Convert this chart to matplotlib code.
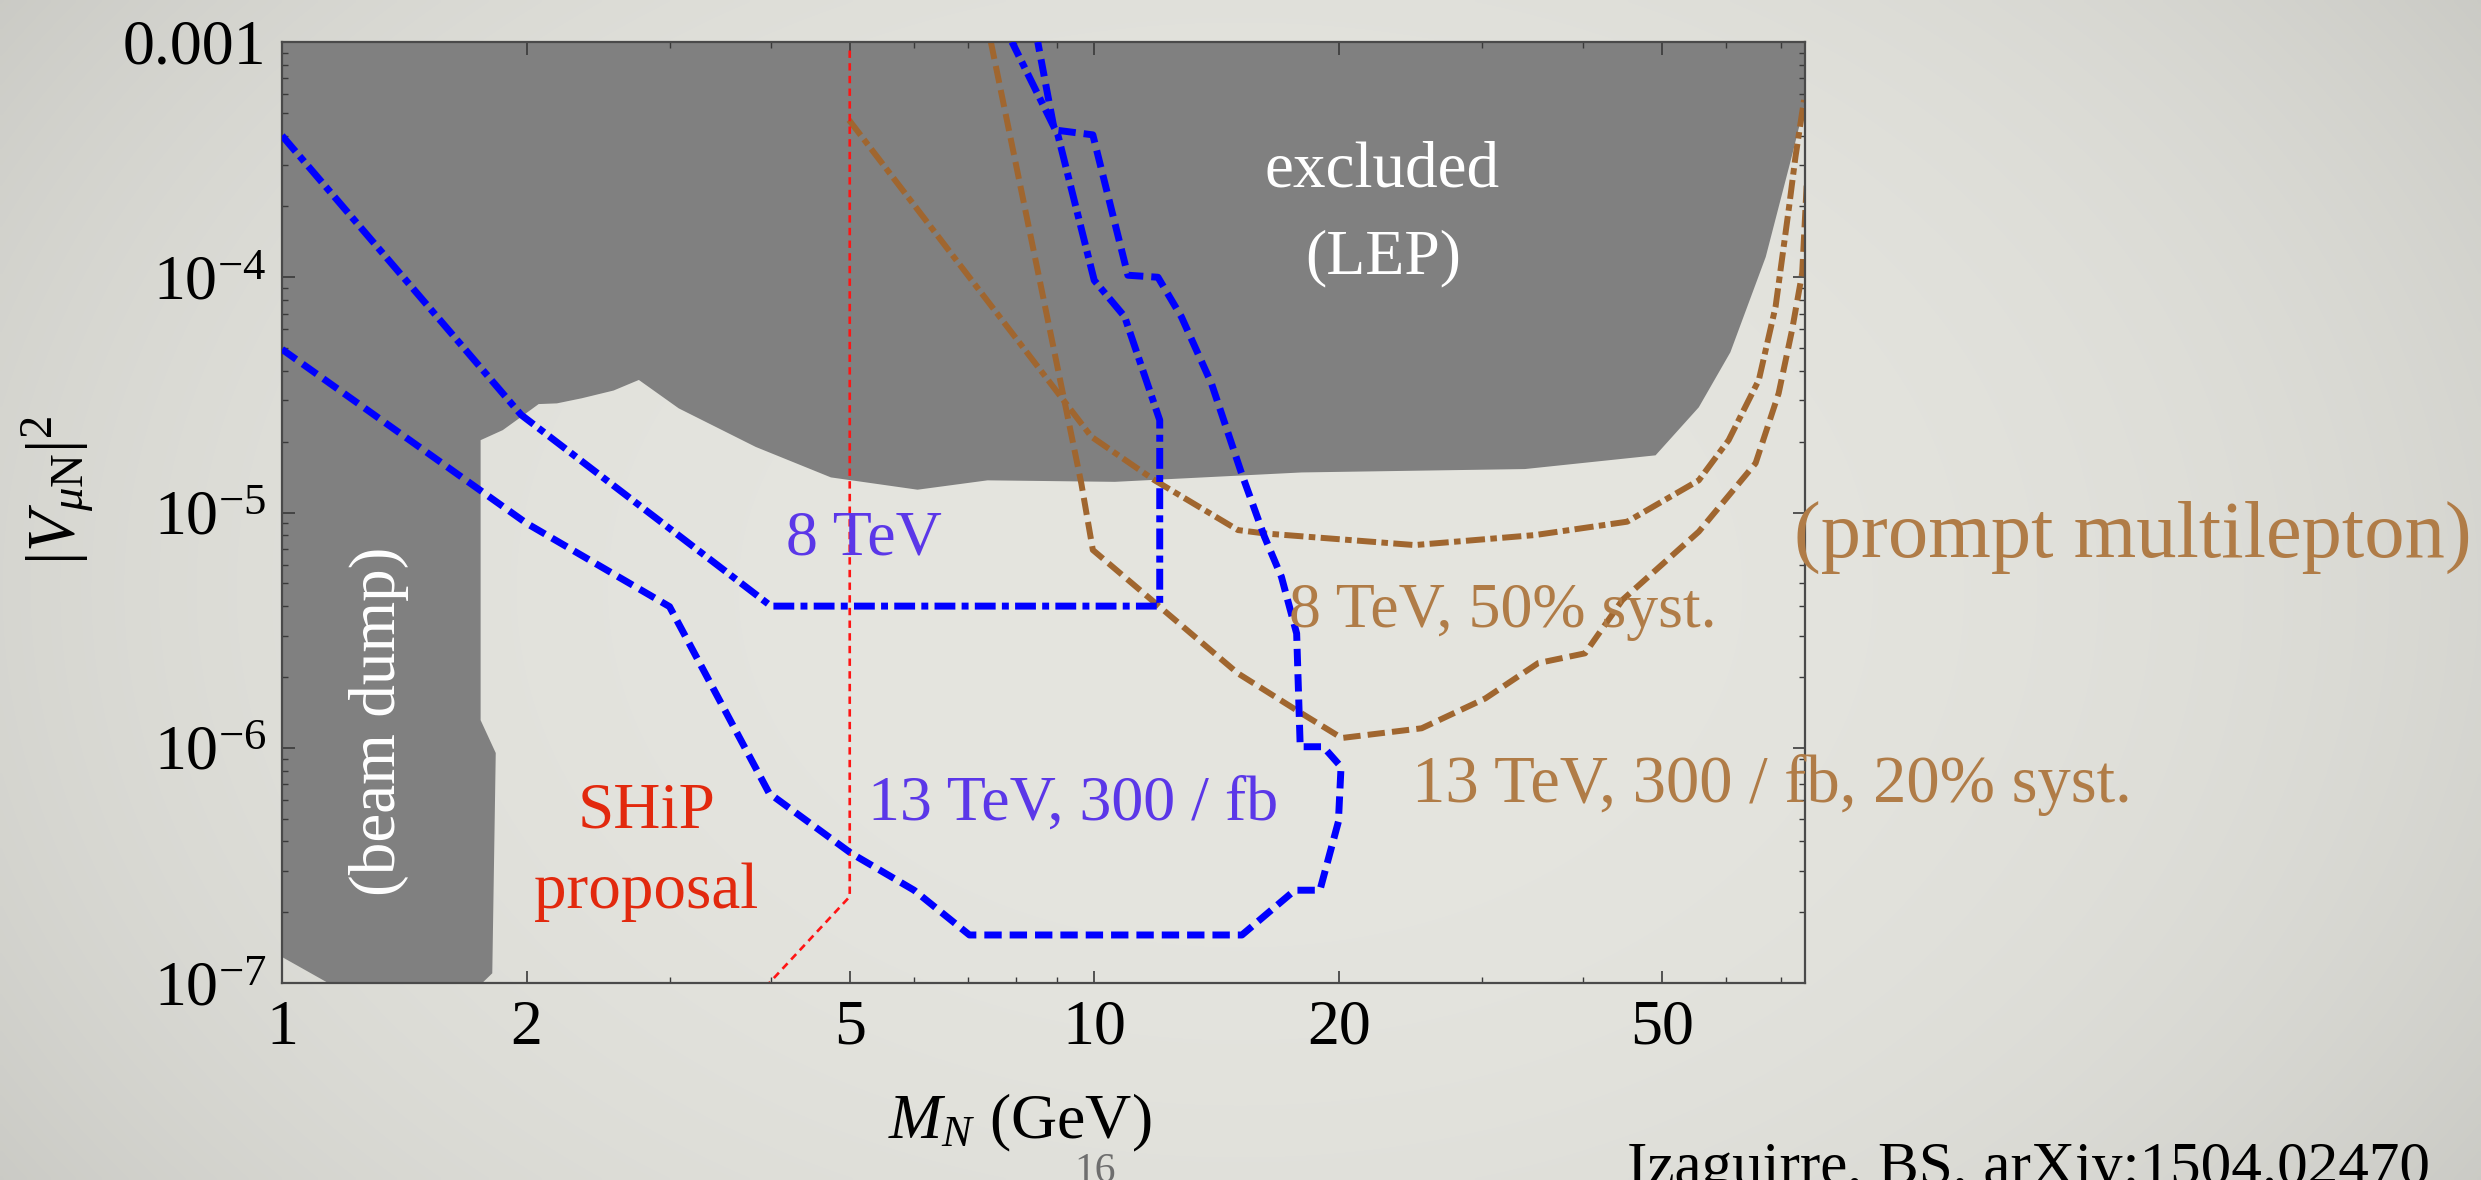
import numpy as np
import matplotlib
matplotlib.use("Agg")
import matplotlib.pyplot as plt
from matplotlib.ticker import FixedLocator, FixedFormatter, NullFormatter

plt.rcParams['font.family'] = ['Liberation Serif', 'DejaVu Serif']
plt.rcParams['mathtext.fontset'] = 'custom'
plt.rcParams['mathtext.rm'] = 'Liberation Serif'
plt.rcParams['mathtext.it'] = 'Liberation Serif:italic'
plt.rcParams['mathtext.bf'] = 'Liberation Serif:bold'

# excluded region (LEP on top, beam dump on the left), outline of the polygon
excl_m = [1, 75, 75, 72.3, 67.1, 60.7, 55.5, 49.1, 33.9, 18.0, 10.6, 7.39, 6.06,
          4.74, 3.83, 3.08, 2.75, 2.56, 2.34, 2.18, 2.07, 1.97, 1.87, 1.756,
          1.756, 1.833, 1.815, 1.764, 1.14, 1]
excl_v = [1e-3, 1e-3, 5.5e-4, 3.3e-4, 1.22e-4, 4.8e-5, 2.8e-5, 1.75e-5, 1.53e-5,
          1.48e-5, 1.35e-5, 1.37e-5, 1.25e-5, 1.41e-5, 1.9e-5, 2.77e-5, 3.66e-5,
          3.3e-5, 3.06e-5, 2.91e-5, 2.89e-5, 2.55e-5, 2.24e-5, 2.03e-5,
          1.31e-6, 9.5e-7, 1.1e-7, 1e-7, 1e-7, 1.29e-7]

# LHC displaced vertex reach, 8 TeV (dash-dot) and 13 TeV 300/fb (dashed)
dv8_m = [1, 1.97, 4.0, 12.04, 12.04, 10.9, 10.0, 9.02, 7.92]
dv8_v = [4.0e-4, 2.6e-5, 4.0e-6, 4.0e-6, 2.47e-5, 6.8e-5, 9.7e-5, 4.03e-4, 1e-3]

dv13_m = [1, 2.0, 3.0, 3.98, 5.02, 6.0, 7.02, 15.2, 17.66, 18.96, 19.98, 20.13,
          19.14, 17.93, 17.75, 17.0, 16.2, 15.18, 13.94, 12.8, 11.98, 11.0,
          9.96, 8.93, 8.52]
dv13_v = [4.94e-5, 9e-6, 3.98e-6, 6.4e-7, 3.56e-7, 2.48e-7, 1.6e-7, 1.6e-7,
          2.48e-7, 2.48e-7, 4.85e-7, 8.3e-7, 1.01e-6, 1.01e-6, 3.06e-6, 5.33e-6,
          7.9e-6, 1.47e-5, 3.54e-5, 6.8e-5, 1.0e-4, 1.02e-4, 4.03e-4, 4.23e-4, 1e-3]

# prompt multilepton reach, 8 TeV 50% syst. (dash-dot) and 13 TeV 20% syst. (dashed)
ml8_m = [4.99, 9.92, 11.87, 15.03, 16.2, 24.8, 34.9, 45.3, 55.5, 60.4, 65.8,
         69.0, 71.7, 73.0, 74.8]
ml8_v = [4.66e-4, 2.1e-5, 1.37e-5, 8.42e-6, 8.15e-6, 7.27e-6, 8.02e-6, 9.14e-6,
         1.37e-5, 2.03e-5, 3.66e-5, 7.5e-5, 2.0e-4, 3.25e-4, 5.67e-4]

ml13_m = [7.46, 9.64, 9.96, 15.03, 18.0, 20.17, 25.3, 30.3, 35.2, 40.2, 44.7,
          55.5, 65.2, 69.6, 72.3, 74.4, 75.5]
ml13_v = [1e-3, 1.33e-5, 6.93e-6, 2.07e-6, 1.4e-6, 1.1e-6, 1.21e-6, 1.62e-6,
          2.29e-6, 2.52e-6, 4.25e-6, 8.29e-6, 1.62e-5, 3.21e-5, 5.97e-5, 1.04e-4, 2.8e-4]

# SHiP proposal
ship_m = [5.0, 5.0, 3.98]
ship_v = [9.2e-4, 2.33e-7, 1e-7]

x_major = [1, 2, 5, 10, 20, 50]
x_minor = [3, 4, 6, 7, 8, 9, 30, 40, 60, 70]
y_major = [1e-7, 1e-6, 1e-5, 1e-4, 1e-3]
y_labels = [r'$10^{-7}$', r'$10^{-6}$', r'$10^{-5}$', r'$10^{-4}$', '0.001']

BLUE = '#0000ff'
BROWN = '#a0662f'
BROWN_TXT = '#b07c47'
PURPLE = '#5b37e8'
RED = '#ff1414'
RED_TXT = '#e2290e'

fig = plt.figure(figsize=(24.81, 11.80), dpi=100)

# slide background with a soft vignette
bg = fig.add_axes([0, 0, 1, 1], zorder=-10)
yy, xx = np.mgrid[-1:1:300j, -1:1:600j]
r = np.clip(np.sqrt((xx * 0.9) ** 2 + (yy * 0.6) ** 2), 0, 1.2)
shade = 1 - 0.09 * r ** 3
base = np.array([229, 229, 223]) / 255.0
bg.imshow(shade[..., None] * base[None, None, :], aspect='auto',
          extent=[0, 1, 0, 1], interpolation='bilinear')
bg.axis('off')

ax = fig.add_axes([282 / 2481, 1 - 983 / 1180, 1523 / 2481, 941 / 1180])
ax.set_facecolor('none')
ax.set_xscale('log')
ax.set_yscale('log')
ax.set_xlim(1, 75)
ax.set_ylim(1e-7, 1e-3)

ax.fill(excl_m, excl_v, color='#808080', lw=0, zorder=1)

ax.plot(dv8_m, dv8_v, color=BLUE, lw=5.0, dashes=(3.0, 0.9, 1.0, 0.9), zorder=3)
ax.plot(dv13_m, dv13_v, color=BLUE, lw=5.0, dashes=(2.5, 1.15), zorder=3)
ax.plot(ml8_m, ml8_v, color=BROWN, lw=4.3, dashes=(3.2, 0.9, 1.1, 0.9), zorder=2)
ax.plot(ml13_m, ml13_v, color=BROWN, lw=4.3, dashes=(2.9, 1.2), zorder=2)
ax.plot(ship_m, ship_v, color=RED, lw=1.9, dashes=(2.8, 2.0), zorder=2)

ax.xaxis.set_major_locator(FixedLocator(x_major))
ax.xaxis.set_major_formatter(FixedFormatter([str(v) for v in x_major]))
ax.xaxis.set_minor_locator(FixedLocator(x_minor))
ax.xaxis.set_minor_formatter(NullFormatter())
ax.yaxis.set_major_locator(FixedLocator(y_major))
ax.yaxis.set_major_formatter(FixedFormatter(y_labels))
ax.yaxis.set_minor_locator(FixedLocator(
    [m * 10.0 ** e for e in range(-7, -3) for m in range(2, 10)]))
ax.yaxis.set_minor_formatter(NullFormatter())

ax.tick_params(which='both', direction='in', top=True, right=True,
               colors='#3a3a3a', labelcolor='black', labelsize=46)
ax.tick_params(which='major', length=9, width=1.2)
ax.tick_params(which='minor', length=4.5, width=1.0)
ax.tick_params(axis='x', pad=12)
ax.tick_params(axis='y', pad=11)
for s in ax.spines.values():
    s.set_color('#4a4a4a')
    s.set_linewidth(1.6)

# region and curve labels
ax.text(22.6, 2.42e-4, 'excluded', color='white', fontsize=47, ha='center', va='baseline', zorder=5)
ax.text(22.7, 1.04e-4, '(LEP)', color='white', fontsize=46, ha='center', va='baseline', zorder=5)
ax.text(1.317, 1.29e-6, '(beam dump)', color='white', fontsize=47, rotation=90,
        ha='center', va='center', zorder=5)
ax.text(2.81, 4.56e-7, 'SHiP', color=RED_TXT, fontsize=47, ha='center', va='baseline', zorder=5)
ax.text(2.81, 2.08e-7, 'proposal', color=RED_TXT, fontsize=47, ha='center', va='baseline', zorder=5)
ax.text(4.17, 6.6e-6, '8 TeV', color=PURPLE, fontsize=46, ha='left', va='baseline', zorder=5)
ax.text(5.26, 4.93e-7, '13 TeV, 300 / fb', color=PURPLE, fontsize=46, ha='left', va='baseline', zorder=5)
ax.text(17.35, 3.26e-6, '8 TeV, 50% syst.', color=BROWN_TXT, fontsize=46, ha='left', va='baseline', zorder=5)
ax.text(24.6, 5.88e-7, '13 TeV, 300 / fb, 20% syst.', color=BROWN_TXT, fontsize=48,
        ha='left', va='baseline', zorder=5)
ax.text(72.6, 6.47e-6, '(prompt multilepton)', color=BROWN_TXT, fontsize=58,
        ha='left', va='baseline', zorder=5)

fig.text(58 / 2481, 1 - 490 / 1180, r'$|V_{\mu \mathrm{N}}|^2$', fontsize=48,
         rotation=90, ha='center', va='center')
fig.text(1020 / 2481, 1 - 1123 / 1180, r'$M_N$ (GeV)', fontsize=46, ha='center', va='center')
fig.text(1095 / 2481, 1 - 1172 / 1180, '16', fontsize=30, color='#6e6e6e', ha='center', va='center')
fig.text(2430 / 2481, -4 / 1180, 'Izaguirre, BS, arXiv:1504.02470', fontsize=44,
         ha='right', va='baseline')

fig.savefig('out.png', dpi=100)
